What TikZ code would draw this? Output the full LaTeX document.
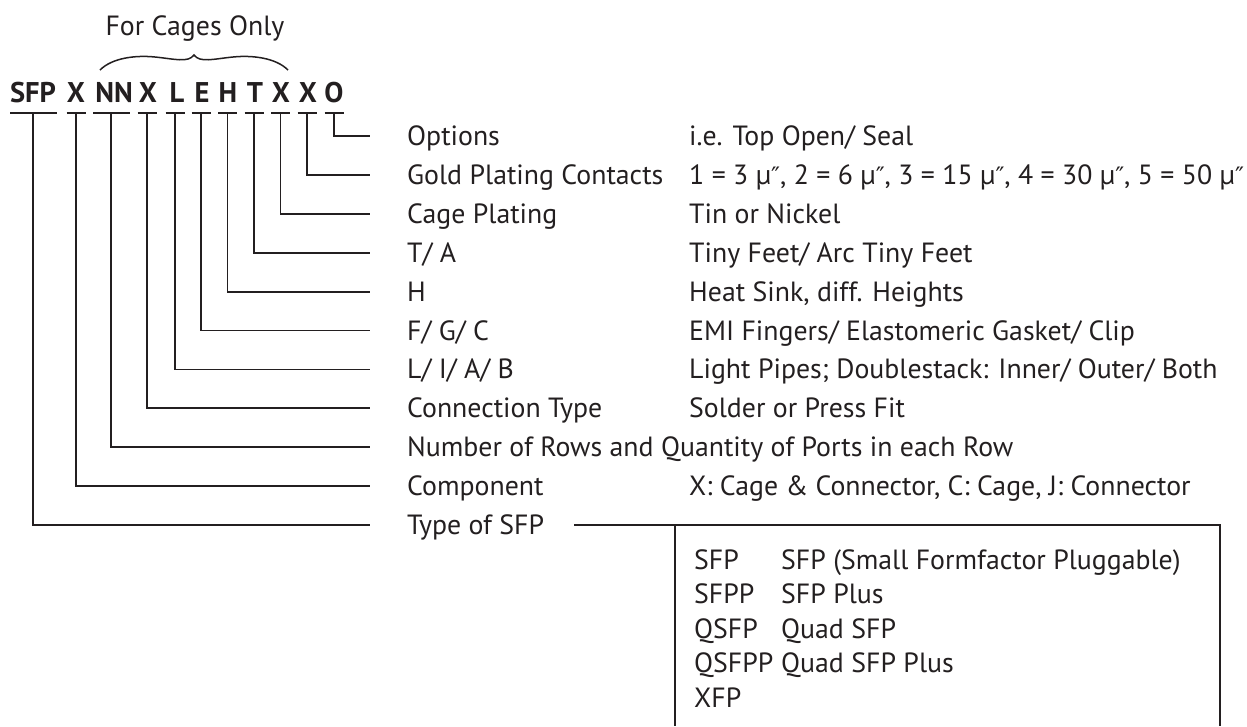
\documentclass[tikz,border=0pt]{standalone}
\usepackage{fontspec}
\setmainfont{PT Sans}
\newfontfamily\dvfont{DejaVu Sans}
\definecolor{ink}{RGB}{35,31,32}
\newcommand\dpr{{\dvfont\fontsize{24}{28}\selectfont ″}}
\begin{document}
\begin{tikzpicture}[x=1pt,y=-1pt,
  lab/.style={anchor=base west, inner sep=0pt, font=\fontsize{27.8}{32}\selectfont, text=ink},
  code/.style={anchor=base, inner sep=0pt, font=\fontsize{28.5}{32}\selectfont\bfseries, text=ink},
  conn/.style={line width=1.8pt, draw=ink},
  bar/.style={line width=2.8pt, draw=ink},
  boxline/.style={line width=2pt, draw=ink},
  bracestyle/.style={line width=1.5pt, draw=ink}]
\useasboundingbox (0,0) rectangle (1247,726);

% heading and brace
\node[lab, anchor=base] (head) at (195,35) {For Cages Only};
\draw[bracestyle] (100,70) .. controls (112,58) and (135,55) .. (155,57)
  .. controls (175,59) and (188,63) .. (194,55)
  .. controls (200,63) and (213,59) .. (233,57)
  .. controls (253,55) and (276,58) .. (288,70);

% code letters
\node[code] (cSFP) at (33,102) {SFP};
\node[code] (cX1) at (76,102) {X};
\node[code] (cNN) at (114,102) {NN};
\node[code] (cX2) at (148,102) {X};
\node[code] (cL) at (177,102) {L};
\node[code] (cE) at (202,102) {E};
\node[code] (cH) at (228,102) {H};
\node[code] (cT) at (255,102) {T};
\node[code] (cX3) at (281,102) {X};
\node[code] (cX4) at (308,102) {X};
\node[code] (cO) at (334,102) {O};

% bar coordinates
\coordinate (bSFP) at (33,113);
\coordinate (bX1) at (76,113);
\coordinate (bNN) at (111,113);
\coordinate (bX2) at (147,113);
\coordinate (bL) at (175,113);
\coordinate (bE) at (201,113);
\coordinate (bH) at (227.5,113);
\coordinate (bT) at (254,113);
\coordinate (bX3) at (280.5,113);
\coordinate (bX4) at (307,113);
\coordinate (bO) at (334,113);

\draw[bar] (10,113) -- (57,113);
\draw[bar] (93,113) -- (130,113);
\foreach \b in {bX1,bX2,bL,bE,bH,bT,bX3,bX4,bO}
  \draw[bar] ([xshift=-9.5pt]\b) -- ([xshift=9.5pt]\b);

% row end coordinates
\foreach \i in {0,...,10}
  \coordinate (e\i) at (370,{136+38.9*\i});

% connectors
\draw[conn] (bO) |- (e0);
\draw[conn] (bX4) |- (e1);
\draw[conn] (bX3) |- (e2);
\draw[conn] (bT) |- (e3);
\draw[conn] (bH) |- (e4);
\draw[conn] (bE) |- (e5);
\draw[conn] (bL) |- (e6);
\draw[conn] (bX2) |- (e7);
\draw[conn] (bNN) |- (e8);
\draw[conn] (bX1) |- (e9);
\draw[conn] (bSFP) |- (e10);

% labels
\node[lab] (l0) at (407,145.5) {Options};
\node[lab] (l1) at (407,{145.5+38.9*1}) {Gold Plating Contacts};
\node[lab] (l2) at (407,{145.5+38.9*2}) {Cage Plating};
\node[lab] (l3) at (407,{145.5+38.9*3}) {T/ A};
\node[lab] (l4) at (407,{145.5+38.9*4}) {H};
\node[lab] (l5) at (407,{145.5+38.9*5}) {F/ G/ C};
\node[lab] (l6) at (407,{145.5+38.9*6}) {L/ I/ A/ B};
\node[lab] (l7) at (407,{145.5+38.9*7}) {Connection Type};
\node[lab] (l8) at (407,{145.5+38.9*8}) {Number of Rows and Quantity of Ports in each Row};
\node[lab] (l9) at (407,{145.5+38.9*9}) {Component};
\node[lab] (l10) at (407,{145.5+38.9*10}) {Type of SFP};

% values
\node[lab] (v0) at (689,145.5) {i.e. Top Open/ Seal};
\node[lab] (v1) at (689,{145.5+38.9*1}) {1 = 3 µ\dpr, 2 = 6 µ\dpr, 3 = 15 µ\dpr, 4 = 30 µ\dpr, 5 = 50 µ\dpr};
\node[lab] (v2) at (689,{145.5+38.9*2}) {Tin or Nickel};
\node[lab] (v3) at (689,{145.5+38.9*3}) {Tiny Feet/ Arc Tiny Feet};
\node[lab] (v4) at (689,{145.5+38.9*4}) {Heat Sink, diff. Heights};
\node[lab] (v5) at (689,{145.5+38.9*5}) {EMI Fingers/ Elastomeric Gasket/ Clip};
\node[lab] (v6) at (689,{145.5+38.9*6}) {Light Pipes; Doublestack: Inner/ Outer/ Both};
\node[lab] (v7) at (689,{145.5+38.9*7}) {Solder or Press Fit};
\node[lab] (v9) at (689,{145.5+38.9*9}) {X: Cage \& Connector, C: Cage, J: Connector};

% type-of-SFP box
\coordinate (t0) at (574,525);
\coordinate (bxl) at (675,525);
\coordinate (bxr) at (1220,525);
\coordinate (bxlb) at (675,726);
\coordinate (bxrb) at (1220,726);
\draw[boxline] (t0) -- (bxr) -- (bxrb);
\draw[boxline] (bxl) -- (bxlb);

\node[lab] (k1) at (694,569) {SFP};
\node[lab] (k2) at (694,603.5) {SFPP};
\node[lab] (k3) at (694,638) {QSFP};
\node[lab] (k4) at (694,672.5) {QSFPP};
\node[lab] (k5) at (694,707) {XFP};
\node[lab] (d1) at (781,569) {SFP (Small Formfactor Pluggable)};
\node[lab] (d2) at (781,603.5) {SFP Plus};
\node[lab] (d3) at (781,638) {Quad SFP};
\node[lab] (d4) at (781,672.5) {Quad SFP Plus};
\end{tikzpicture}
\end{document}
